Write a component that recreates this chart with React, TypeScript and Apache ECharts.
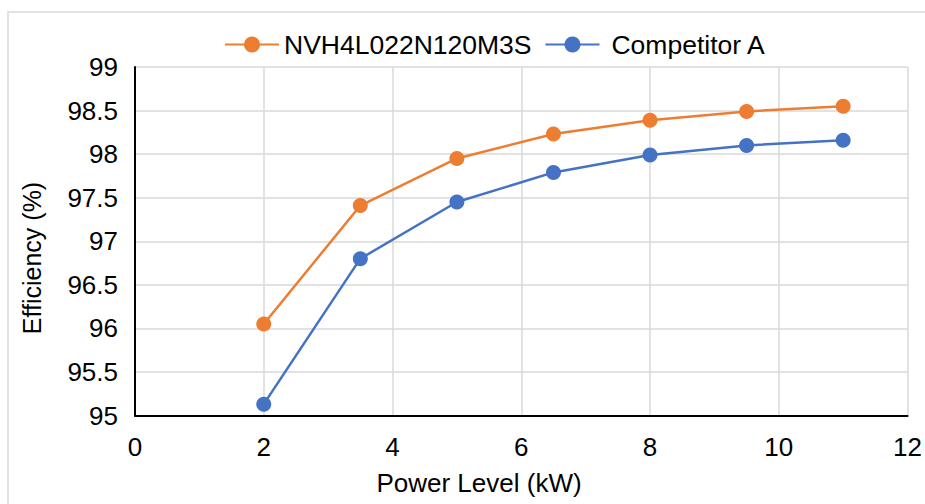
import React, { useEffect, useRef } from "react";
import * as echarts from "echarts";

const powerLevels = [2, 3.5, 5, 6.5, 8, 9.5, 11];
const nvhEfficiency = [96.05, 97.41, 97.95, 98.23, 98.39, 98.49, 98.55];
const competitorEfficiency = [95.13, 96.8, 97.45, 97.79, 97.99, 98.1, 98.16];
const seriesNames = ["NVH4L022N120M3S", "Competitor A"];
const xTitle = "Power Level (kW)";
const yTitle = "Efficiency (%)";

const FONT = "'Liberation Sans', Arial, sans-serif";

export default function App() {
  const ref = useRef<HTMLDivElement>(null);
  useEffect(() => {
    if (!ref.current) return;
    const chart = echarts.init(ref.current, undefined, { renderer: "svg" });
    const mk = (ys: number[]) => powerLevels.map((x, i) => [x, ys[i]]);
    chart.setOption({
      animation: false,
      backgroundColor: "#ffffff",
      textStyle: { fontFamily: FONT },
      grid: { left: 135, right: 14, top: 67, bottom: 88.5, containLabel: false },
      legend: {
        left: 224,
        top: 31,
        padding: 0,
        itemWidth: 54,
        itemHeight: 20,
        itemGap: 13,
        textStyle: { fontFamily: FONT, fontSize: 26.5, color: "#000" },
        data: [
          { name: seriesNames[0] },
          { name: seriesNames[1], textStyle: { padding: [0, 0, 0, 7] } },
        ],
      },
      xAxis: {
        type: "value",
        min: 0,
        max: 12,
        interval: 2,
        axisLine: { show: true, lineStyle: { color: "#000", width: 2 } },
        axisTick: { show: false },
        axisLabel: { color: "#000", fontSize: 26, fontFamily: FONT, margin: 18 },
        splitLine: { show: true, lineStyle: { color: "#d9d9d9", width: 1.5 } },
      },
      yAxis: {
        type: "value",
        min: 95,
        max: 99,
        interval: 0.5,
        axisLine: { show: true, lineStyle: { color: "#000", width: 2 } },
        axisTick: { show: false },
        axisLabel: { color: "#000", fontSize: 26, fontFamily: FONT, margin: 17 },
        splitLine: { show: true, lineStyle: { color: "#d9d9d9", width: 1.5 } },
      },
      graphic: [
        {
          type: "rect",
          shape: { x: 8, y: 12, width: 1200, height: 1000 },
          style: { fill: "none", stroke: "#d9d9d9", lineWidth: 1.5 },
          z: -10,
          silent: true,
        },
        {
          type: "text",
          x: 479,
          y: 483,
          style: {
            text: xTitle,
            fontSize: 26,
            fontFamily: FONT,
            fill: "#000",
            textAlign: "center",
            textVerticalAlign: "middle",
          },
        },
        {
          type: "text",
          x: 32,
          y: 258,
          rotation: Math.PI / 2,
          style: {
            text: yTitle,
            fontSize: 25,
            fontFamily: FONT,
            fill: "#000",
            textAlign: "center",
            textVerticalAlign: "middle",
          },
        },
      ],
      series: [
        {
          name: seriesNames[0],
          type: "line",
          data: mk(nvhEfficiency),
          symbol: "circle",
          symbolSize: 15,
          itemStyle: { color: "#ED7D31" },
          lineStyle: { color: "#ED7D31", width: 2.5 },
          clip: false,
        },
        {
          name: seriesNames[1],
          type: "line",
          data: mk(competitorEfficiency),
          symbol: "circle",
          symbolSize: 15,
          itemStyle: { color: "#4472C4" },
          lineStyle: { color: "#4472C4", width: 2.5 },
          clip: false,
        },
      ],
    });
    return () => chart.dispose();
  }, []);
  return (
    <div
      ref={ref}
      style={{ position: "fixed", left: 0, top: 0, width: 925, height: 504 }}
    />
  );
}
